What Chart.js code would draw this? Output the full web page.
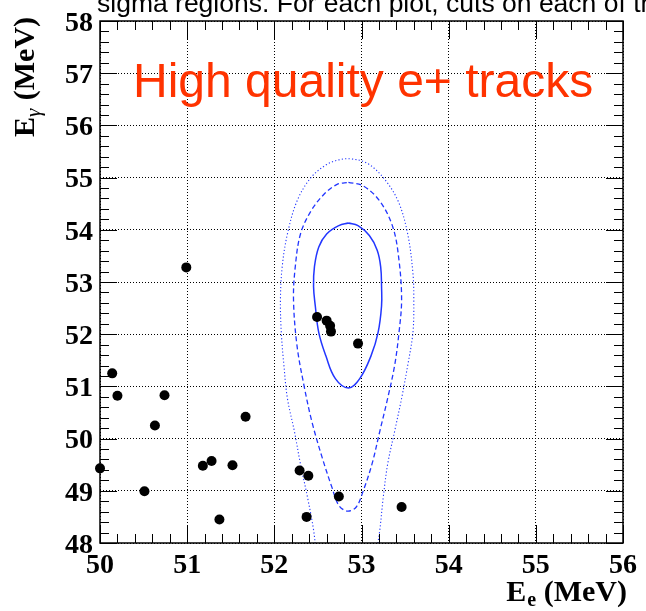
<!DOCTYPE html>
<html>
<head>
<meta charset="utf-8">
<script src="https://cdn.jsdelivr.net/npm/chart.js@4.4.1/dist/chart.umd.min.js"></script>
<style>
  html, body { margin: 0; padding: 0; background: #fff; }
  canvas { display: block; }
</style>
</head>
<body>
<canvas id="plot" width="646" height="611"></canvas>
<script>
/* ---------- Axis ranges / ticks ---------- */
const xTicks = [50, 51, 52, 53, 54, 55, 56];
const yTicks = [48, 49, 50, 51, 52, 53, 54, 55, 56, 57, 58];
const minorStep = 0.2;

/* ---------- Selected events (Ee, Egamma in MeV) ---------- */
const eventEe = [50.00, 50.14, 50.20, 50.51, 50.63, 50.74, 50.99, 51.18, 51.28, 51.37, 51.52,
                 51.67, 52.29, 52.39, 52.37, 52.49, 52.60, 52.64, 52.65, 52.74, 52.96, 53.46];
const eventEg = [49.43, 51.25, 50.82, 48.99, 50.25, 50.83, 53.28, 49.48, 49.57, 48.45, 49.49,
                 50.42, 49.39, 49.29, 48.50, 52.33, 52.26, 52.16, 52.05, 48.89, 51.82, 48.69];

/* ---------- Signal region contours ---------- */
// 1 sigma (solid)
const sigma1Ee = [52.85, 52.96, 53.09, 53.18, 53.22, 53.23, 53.23, 53.19, 53.11, 52.98, 52.85,
                  52.70, 52.59, 52.51, 52.47, 52.45, 52.46, 52.51, 52.60, 52.74, 52.85];
const sigma1Eg = [54.13, 54.08, 53.89, 53.61, 53.29, 52.91, 52.54, 52.03, 51.59, 51.15, 50.97,
                  51.15, 51.59, 52.03, 52.54, 52.91, 53.29, 53.67, 53.92, 54.08, 54.13];
// 2 sigma (dashed)
const sigma2Ee = [52.85, 53.02, 53.21, 53.36, 53.43, 53.46, 53.43, 53.38, 53.30, 53.21, 53.12,
                  53.02, 52.94, 52.84, 52.74, 52.66, 52.55, 52.43, 52.34, 52.26, 52.22, 52.24,
                  52.30, 52.42, 52.57, 52.72, 52.85];
const sigma2Eg = [54.91, 54.84, 54.55, 54.05, 53.42, 52.66, 52.03, 51.40, 50.77, 50.14, 49.51,
                  49.00, 48.69, 48.61, 48.72, 49.07, 49.63, 50.33, 51.02, 51.78, 52.66, 53.29,
                  53.92, 54.36, 54.68, 54.87, 54.91];
// 3 sigma (dotted, runs out of the frame at the bottom)
const sigma3Ee = [53.17, 53.21, 53.25, 53.30, 53.38, 53.46, 53.53, 53.59, 53.60, 53.59, 53.53,
                  53.42, 53.25, 53.06, 52.87, 52.74, 52.60, 52.42, 52.26, 52.15, 52.09, 52.07,
                  52.08, 52.11, 52.15, 52.23, 52.30, 52.38, 52.45, 52.48];
const sigma3Eg = [47.80, 48.25, 48.88, 49.51, 50.14, 50.77, 51.40, 52.03, 52.66, 53.17, 53.92,
                  54.55, 55.00, 55.28, 55.36, 55.34, 55.25, 55.00, 54.55, 53.92, 53.29, 52.66,
                  52.03, 51.40, 50.77, 50.14, 49.51, 48.88, 48.25, 47.80];

const pairs = (xs, ys) => xs.map((x, i) => ({ x: x, y: ys[i] }));

const serif = 'Liberation Serif';
const contourBlue = '#2236ff';

/* ---------- Frame, inner ticks, titles, overlay text ---------- */
const framePlugin = {
    id: 'rootFrame',
    beforeDraw(chart) {
        const ctx = chart.ctx;
        ctx.save();
        ctx.fillStyle = '#fff';
        ctx.fillRect(0, 0, chart.width, chart.height);
        ctx.restore();
    },
    afterDraw(chart) {
        const { ctx, chartArea: a, scales: { x, y } } = chart;
        ctx.save();
        ctx.strokeStyle = '#000';
        ctx.lineWidth = 1;

        const seg = (x1, y1, x2, y2) => {
            ctx.beginPath(); ctx.moveTo(x1, y1); ctx.lineTo(x2, y2); ctx.stroke();
        };

        // ticks on x (bottom and top)
        const x0 = xTicks[0], x1 = xTicks[xTicks.length - 1];
        for (let k = 0; x0 + k * minorStep <= x1 + 1e-9; k++) {
            const v = x0 + k * minorStep;
            const len = (k % 5 === 0) ? 18 : 9;
            const px = Math.round(x.getPixelForValue(v)) + 0.5;
            seg(px, a.bottom, px, a.bottom - len);
            seg(px, a.top, px, a.top + len);
        }
        // ticks on y (left and right)
        const y0 = yTicks[0], y1 = yTicks[yTicks.length - 1];
        for (let k = 0; y0 + k * minorStep <= y1 + 1e-9; k++) {
            const v = y0 + k * minorStep;
            const len = (k % 5 === 0) ? 17 : 9;
            const py = Math.round(y.getPixelForValue(v)) + 0.5;
            seg(a.left, py, a.left + len, py);
            seg(a.right, py, a.right - len, py);
        }

        // frame
        ctx.lineWidth = 1.5;
        ctx.strokeRect(a.left, a.top, a.right - a.left, a.bottom - a.top);

        ctx.fillStyle = '#000';
        ctx.textBaseline = 'alphabetic';
        ctx.textAlign = 'left';

        // x title: E_e (MeV), right aligned to the frame
        const big = 'bold 30px "' + serif + '"';
        const sub = 'bold 20px "' + serif + '"';
        ctx.font = big;
        const wE = ctx.measureText('E').width;
        const wRest = ctx.measureText(' (MeV)').width;
        ctx.font = sub;
        const wSub = ctx.measureText('e').width + 1;
        let tx = 627 - (wE + wSub + wRest);
        const ty = 601;
        ctx.font = big;
        ctx.fillText('E', tx, ty);
        tx += wE;
        ctx.font = sub;
        ctx.fillText('e', tx + 1, ty + 5);
        tx += wSub;
        ctx.font = big;
        ctx.fillText(' (MeV)', tx, ty);

        // y title: E_gamma (MeV), rotated
        ctx.save();
        ctx.translate(34, 137);
        ctx.rotate(-Math.PI / 2);
        let ux = 0;
        ctx.font = big;
        ctx.fillText('E', ux, 0);
        ux += ctx.measureText('E').width;
        ctx.font = 'italic 21px "' + serif + '"';
        ctx.fillText('\u03b3', ux, 6);
        ux += ctx.measureText('\u03b3').width + 1;
        ctx.font = big;
        ctx.fillText(' (MeV)', ux, 0);
        ctx.restore();

        // slide text cut at the top of the picture
        ctx.font = '26.5px "Liberation Sans"';
        ctx.fillText('sigma regions. For each plot, cuts on each of th', 97, 12);

        // in-plot label
        ctx.fillStyle = '#ff3300';
        ctx.font = '48px "Liberation Sans"';
        ctx.fillText('High quality e+ tracks', 133, 97);

        ctx.restore();
    }
};

const tickFont = { family: serif, weight: 'bold', size: 28, lineHeight: 1 };

new Chart(document.getElementById('plot'), {
    type: 'scatter',
    data: {
        datasets: [
            {
                label: 'events',
                data: pairs(eventEe, eventEg),
                pointRadius: 5,
                pointBackgroundColor: '#000',
                pointBorderColor: '#000',
                pointBorderWidth: 0,
                clip: false
            },
            {
                label: '1 sigma',
                data: pairs(sigma1Ee, sigma1Eg),
                showLine: true,
                pointRadius: 0,
                borderColor: contourBlue,
                borderWidth: 1.5,
                tension: 0.4
            },
            {
                label: '2 sigma',
                data: pairs(sigma2Ee, sigma2Eg),
                showLine: true,
                pointRadius: 0,
                borderColor: contourBlue,
                borderWidth: 1.3,
                borderDash: [5, 3],
                tension: 0.35
            },
            {
                label: '3 sigma',
                data: pairs(sigma3Ee, sigma3Eg),
                showLine: true,
                pointRadius: 0,
                borderColor: contourBlue,
                borderWidth: 1.1,
                borderDash: [1.2, 2.2],
                tension: 0.35,
                clip: 0
            }
        ]
    },
    options: {
        responsive: false,
        animation: false,
        events: [],
        layout: { padding: { top: 14.5, right: 16, bottom: 0, left: 0 } },
        plugins: {
            legend: { display: false },
            tooltip: { enabled: false }
        },
        scales: {
            x: {
                type: 'linear',
                min: xTicks[0],
                max: xTicks[xTicks.length - 1],
                afterBuildTicks: s => { s.ticks = xTicks.map(v => ({ value: v })); },
                afterFit: s => { s.height = 68; },
                grid: { color: '#000', lineWidth: 1, drawTicks: false },
                border: { display: false, dash: [1, 2] },
                ticks: { color: '#000', font: tickFont, padding: 9, maxRotation: 0 }
            },
            y: {
                type: 'linear',
                min: yTicks[0],
                max: yTicks[yTicks.length - 1],
                afterBuildTicks: s => { s.ticks = yTicks.map(v => ({ value: v })); },
                afterFit: s => { s.width = 100; },
                grid: { color: '#000', lineWidth: 1, drawTicks: false },
                border: { display: false, dash: [1, 2] },
                ticks: { color: '#000', font: tickFont, padding: 7, labelOffset: 2.5 }
            }
        }
    },
    plugins: [framePlugin]
});
</script>
</body>
</html>
